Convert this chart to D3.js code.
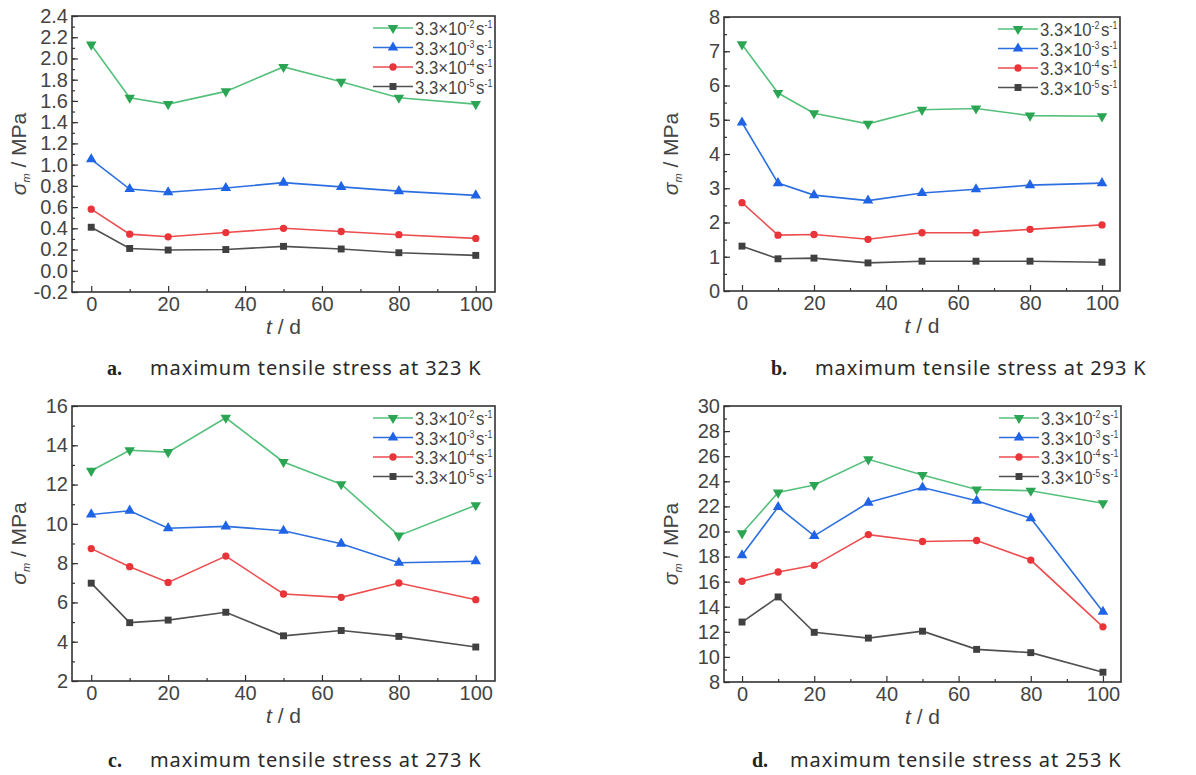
<!DOCTYPE html>
<html>
<head>
<meta charset="utf-8">
<script src="https://cdnjs.cloudflare.com/ajax/libs/d3/7.8.5/d3.min.js"></script>
<style>
  body { margin: 0; background: #fff; }
  svg { display: block; }
  .tick text { font-family: "Liberation Sans Narrow", "Liberation Sans", Arial, sans-serif; font-size: 20px; fill: #444; }
</style>
</head>
<body>
<div id="chart"></div>
<script>
// Time (days) and strain rates
const days = [0, 10, 20, 35, 50, 65, 80, 100];
const rateExp = ["-2", "-3", "-4", "-5"];

// Maximum tensile stress (MPa), one array per strain rate, per temperature
const t323_r2 = [2.13, 1.63, 1.57, 1.69, 1.92, 1.78, 1.63, 1.57];
const t323_r3 = [1.05, 0.77, 0.74, 0.78, 0.83, 0.79, 0.75, 0.71];
const t323_r4 = [0.58, 0.345, 0.32, 0.36, 0.40, 0.37, 0.34, 0.305];
const t323_r5 = [0.41, 0.21, 0.195, 0.20, 0.23, 0.205, 0.17, 0.145];

const t293_r2 = [7.2, 5.78, 5.19, 4.88, 5.29, 5.33, 5.12, 5.1];
const t293_r3 = [4.92, 3.15, 2.8, 2.64, 2.86, 2.97, 3.09, 3.15];
const t293_r4 = [2.58, 1.63, 1.65, 1.51, 1.7, 1.7, 1.8, 1.93];
const t293_r5 = [1.31, 0.94, 0.96, 0.82, 0.87, 0.87, 0.87, 0.84];

const t273_r2 = [12.7, 13.75, 13.65, 15.4, 13.15, 12.02, 9.4, 10.95];
const t273_r3 = [10.48, 10.67, 9.78, 9.87, 9.65, 8.99, 8.02, 8.1];
const t273_r4 = [8.74, 7.82, 7.02, 8.36, 6.43, 6.26, 6.99, 6.14];
const t273_r5 = [6.98, 4.97, 5.1, 5.5, 4.3, 4.57, 4.27, 3.73];

const t253_r2 = [19.85, 23.1, 23.7, 25.75, 24.5, 23.35, 23.25, 22.25];
const t253_r3 = [18.1, 21.95, 19.65, 22.3, 23.5, 22.45, 21.05, 13.6];
const t253_r4 = [16.03, 16.77, 17.3, 19.75, 19.2, 19.28, 17.72, 12.4];
const t253_r5 = [12.78, 14.78, 11.96, 11.5, 12.05, 10.6, 10.34, 8.78];

const captions = [
  ["a.", "maximum tensile stress at 323 K"],
  ["b.", "maximum tensile stress at 293 K"],
  ["c.", "maximum tensile stress at 273 K"],
  ["d.", "maximum tensile stress at 253 K"]
];

const W = 1196, H = 775;
const svg = d3.select("#chart").append("svg")
  .attr("width", W).attr("height", H);

// series styles: line colour, marker colour, marker type
const styles = [
  { line: "#55c07c", mark: "#2ba553", sym: d3.symbolTriangle, rot: 180 },
  { line: "#2c6fe0", mark: "#1f63e6", sym: d3.symbolTriangle, rot: 0 },
  { line: "#ec4d4f", mark: "#e93539", sym: d3.symbolCircle, rot: 0 },
  { line: "#505050", mark: "#404040", sym: d3.symbolSquare, rot: 0 }
];

const panels = [
  { box: [72, 16, 495, 292], y: [-0.2, 2.4], major: 0.2, minor: 0.1, fmt: ".1f",
    series: [t323_r2, t323_r3, t323_r4, t323_r5], cap: [107, 150, 375] },
  { box: [724, 17, 1120, 291], y: [0, 8], major: 1, minor: 0.5, fmt: "d",
    series: [t293_r2, t293_r3, t293_r4, t293_r5], cap: [771, 815, 375] },
  { box: [72, 406, 495, 681], y: [2, 16], major: 2, minor: 1, fmt: "d",
    series: [t273_r2, t273_r3, t273_r4, t273_r5], cap: [108, 150, 767] },
  { box: [724, 406, 1121, 682], y: [8, 30], major: 2, minor: 1, fmt: "d",
    series: [t253_r2, t253_r3, t253_r4, t253_r5], cap: [752, 790, 767] }
];

function steps(a, b, s) {
  const out = [];
  const n = Math.round((b - a) / s);
  for (let i = 0; i <= n; i++) out.push(+(a + i * s).toFixed(6));
  return out;
}

const FONT = "'Liberation Sans Narrow', 'Liberation Sans', Arial, sans-serif";

panels.forEach((p, pi) => {
  const [left, top, right, bottom] = p.box;
  const g = svg.append("g");

  const x = d3.scaleLinear().domain([-5, 105]).range([left, right]);
  const y = d3.scaleLinear().domain(p.y).range([bottom, top]);
  const yfmt = d => d3.format(p.fmt)(d).replace("\u2212", "-");

  // minor ticks
  g.append("g").attr("transform", `translate(0,${bottom})`)
    .call(d3.axisBottom(x).tickValues(steps(10, 90, 20)).tickSize(-3).tickFormat(""))
    .call(a => a.select(".domain").remove());
  g.append("g").attr("transform", `translate(${left},0)`)
    .call(d3.axisLeft(y).tickValues(steps(p.y[0], p.y[1], p.minor)).tickSize(-3).tickFormat(""))
    .call(a => a.select(".domain").remove());

  // major ticks with labels
  g.append("g").attr("transform", `translate(0,${bottom})`)
    .call(d3.axisBottom(x).tickValues(steps(0, 100, 20)).tickSize(-6).tickPadding(5).tickFormat(d3.format("d")))
    .call(a => a.select(".domain").remove());
  g.append("g").attr("transform", `translate(${left},0)`)
    .call(d3.axisLeft(y).tickValues(steps(p.y[0], p.y[1], p.major)).tickSize(-6).tickPadding(4).tickFormat(yfmt))
    .call(a => a.select(".domain").remove());

  g.selectAll(".tick line").attr("stroke", "#333").attr("stroke-width", 1.2);
  g.selectAll(".tick text").attr("fill", "#444");

  // frame
  g.append("rect")
    .attr("x", left).attr("y", top)
    .attr("width", right - left).attr("height", bottom - top)
    .attr("fill", "none").attr("stroke", "#333").attr("stroke-width", 1.6);

  // series
  const line = d3.line().x((d, i) => x(days[i])).y(d => y(d));
  p.series.forEach((vals, si) => {
    const st = styles[si];
    g.append("path").datum(vals)
      .attr("d", line)
      .attr("fill", "none").attr("stroke", st.line).attr("stroke-width", 1.6);
    g.selectAll(null).data(vals).enter().append("path")
      .attr("d", d3.symbol().type(st.sym).size(st.sym === d3.symbolCircle ? 42 : 48))
      .attr("transform", (d, i) => `translate(${x(days[i])},${y(d)}) rotate(${st.rot})`)
      .attr("fill", st.mark);
  });

  // legend
  const lg = g.append("g");
  rateExp.forEach((e, si) => {
    const st = styles[si];
    const ly = top + 12 + si * 19.5;
    lg.append("line")
      .attr("x1", right - 122).attr("x2", right - 82)
      .attr("y1", ly).attr("y2", ly)
      .attr("stroke", st.line).attr("stroke-width", 1.6);
    lg.append("path")
      .attr("d", d3.symbol().type(st.sym).size(st.sym === d3.symbolCircle ? 42 : 48))
      .attr("transform", `translate(${right - 102},${ly}) rotate(${st.rot})`)
      .attr("fill", st.mark);
    const t = lg.append("text")
      .attr("transform", `translate(${right - 80},${ly + 7}) scale(0.88,1)`)
      .attr("font-family", FONT)
      .attr("font-size", 19).attr("fill", "#444");
    t.append("tspan").text("3.3×10");
    t.append("tspan").attr("font-size", 10).attr("dy", -7).text(e);
    t.append("tspan").attr("dy", 7).attr("dx", 2).text("s");
    t.append("tspan").attr("font-size", 10).attr("dy", -7).text("-1");
  });

  // y label
  const yl = g.append("text")
    .attr("transform", `translate(${left - 46},${(top + bottom) / 2}) rotate(-90)`)
    .attr("text-anchor", "middle")
    .attr("font-family", "'Liberation Sans', Arial, sans-serif")
    .attr("font-size", 21).attr("fill", "#444");
  yl.append("tspan").attr("font-style", "italic").text("σ");
  yl.append("tspan").attr("font-style", "italic").attr("font-size", 11).attr("dy", 4).text("m");
  yl.append("tspan").attr("dy", -4).text(" / MPa");

  // x label
  const xl = g.append("text")
    .attr("x", x(50)).attr("y", bottom + 42)
    .attr("text-anchor", "middle")
    .attr("font-family", "'Liberation Sans', Arial, sans-serif")
    .attr("font-size", 21).attr("fill", "#444");
  xl.append("tspan").attr("font-style", "italic").text("t");
  xl.append("tspan").text(" / d");

  // caption
  const [cx0, cx1, cy] = p.cap;
  svg.append("text")
    .attr("x", cx0).attr("y", cy)
    .attr("font-family", "'Liberation Serif', serif").attr("font-weight", "bold")
    .attr("font-size", 20).attr("fill", "#222")
    .text(captions[pi][0]);
  svg.append("text")
    .attr("x", cx1).attr("y", cy)
    .attr("font-family", "'Noto Sans', 'Open Sans', sans-serif")
    .attr("font-size", 20).attr("letter-spacing", 0.9).attr("fill", "#2a2a2a")
    .text(captions[pi][1]);
});
</script>
</body>
</html>
